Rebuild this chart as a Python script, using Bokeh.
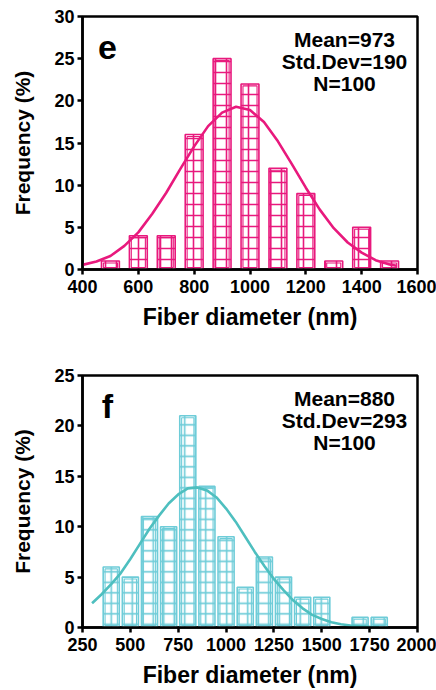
from bokeh.plotting import figure
from bokeh.layouts import column
from bokeh.models import Label, FixedTicker, Range1d
from bokeh.embed import file_html
from bokeh.resources import INLINE

# ---------------- Panel e data ----------------
e_bins = [500, 600, 700, 800, 900, 1000, 1100, 1200, 1300, 1400, 1500]
e_freq = [1, 4, 4, 16, 25, 22, 12, 9, 1, 5, 1]
e_fit_x = [400, 450, 500, 550, 600, 650, 700, 750, 800, 850, 900, 950, 1000,
           1050, 1100, 1150, 1200, 1250, 1300, 1350, 1400, 1450, 1500, 1525]
e_fit_y = [0.55, 0.95, 1.6, 2.8, 4.4, 6.6, 9.1, 11.9, 14.6, 17.0, 18.6, 19.3, 18.9,
           17.5, 15.2, 12.5, 9.7, 7.1, 4.9, 3.2, 2.0, 1.1, 0.6, 0.45]
e_xticks = [400, 600, 800, 1000, 1200, 1400, 1600]
e_yticks = [0, 5, 10, 15, 20, 25, 30]
e_stats = ["Mean=973", "Std.Dev=190", "N=100"]
e_letter = "e"

# ---------------- Panel f data ----------------
f_bins = [400, 500, 600, 700, 800, 900, 1000, 1100, 1200, 1300, 1400, 1500, 1600, 1700, 1800]
f_freq = [6, 5, 11, 10, 21, 14, 9, 4, 7, 5, 3, 3, 0, 1, 1]
f_fit_x = [300, 350, 400, 450, 500, 550, 600, 650, 700, 750, 800, 850, 900, 950, 1000,
           1050, 1100, 1150, 1200, 1250, 1300, 1350, 1400, 1450, 1500, 1550, 1600,
           1650, 1700, 1750, 1800]
f_fit_y = [2.4, 3.3, 4.3, 5.4, 6.8, 8.3, 9.8, 11.1, 12.3, 13.2, 13.8, 13.9, 13.6, 12.9, 11.8,
           10.5, 9.0, 7.5, 6.1, 4.8, 3.7, 2.7, 1.9, 1.25, 0.85, 0.53, 0.33,
           0.2, 0.12, 0.07, 0.04]
f_xticks = [250, 500, 750, 1000, 1250, 1500, 1750, 2000]
f_yticks = [0, 5, 10, 15, 20, 25]
f_stats = ["Mean=880", "Std.Dev=293", "N=100"]
f_letter = "f"

FONT = "Liberation Sans"
W, H = 436, 345
BL, BR = 82, 19


def panel(bins, freq, fit_x, fit_y, xr, yr, xticks, yticks, bar_color, line_color,
          letter, stats, bar_w, bt, bb, hatch_scale):
    p = figure(width=W, height=H, output_backend="svg", toolbar_location=None,
               x_range=Range1d(*xr), y_range=Range1d(*yr),
               min_border_left=BL, min_border_right=BR,
               min_border_top=bt, min_border_bottom=bb)
    p.grid.visible = False
    p.background_fill_color = "white"
    p.outline_line_color = "black"
    p.outline_line_width = 2.5
    fw = W - BL - BR
    fh = H - bt - bb
    sx = (xr[1] - xr[0]) / fw
    sy = (yr[1] - yr[0]) / fh

    xs = [b for b, v in zip(bins, freq) if v > 0]
    ys = [v for v in freq if v > 0]
    p.vbar(x=xs, width=bar_w, top=ys, bottom=0, fill_color="white",
           line_color=bar_color, line_width=1.6,
           hatch_pattern="+", hatch_color=bar_color, hatch_scale=hatch_scale,
           hatch_weight=1.6)
    inset_x = 1.9 * sx
    inset_y = 1.9 * sy
    p.vbar(x=xs, width=bar_w - 2 * inset_x, top=[v - inset_y for v in ys],
           bottom=inset_y, fill_alpha=0, line_color=bar_color, line_width=1.1)

    p.line(fit_x, fit_y, line_color=line_color, line_width=2.6)

    for ax in (p.xaxis[0], p.yaxis[0]):
        ax.axis_line_width = 2.5
        ax.major_tick_line_width = 2.5
        ax.major_tick_out = 5
        ax.major_tick_in = 0
        ax.minor_tick_line_color = None
        ax.major_label_text_font = FONT
        ax.major_label_text_font_style = "bold"
        ax.major_label_text_font_size = "18px"
        ax.major_label_text_color = "black"
        ax.axis_label_text_font = FONT
        ax.axis_label_text_font_style = "bold"
        ax.axis_label_text_color = "black"
    p.xaxis.axis_label_text_font_size = "23px"
    p.yaxis.axis_label_text_font_size = "21px"
    p.xaxis.ticker = FixedTicker(ticks=xticks)
    p.yaxis.ticker = FixedTicker(ticks=yticks)
    p.xaxis.axis_label = "Fiber diameter (nm)"
    p.yaxis.axis_label = "Frequency (%)"
    p.xaxis.major_label_standoff = 5
    p.yaxis.major_label_standoff = 3
    p.xaxis.axis_label_standoff = 8
    p.yaxis.axis_label_standoff = 17

    # panel letter
    p.add_layout(Label(x=xr[0] + 25 * sx, y=yr[1] - 31 * sy, text=letter,
                       text_font=FONT, text_font_style="bold", text_font_size="34px",
                       text_align="center", text_baseline="middle", text_color="black"))
    for i, s in enumerate(stats):
        p.add_layout(Label(x=xr[0] + 262 * sx, y=yr[1] - (23 + 22 * i) * sy, text=s,
                           text_font=FONT, text_font_style="bold", text_font_size="21px",
                           text_align="center", text_baseline="middle", text_color="black"))
    return p


p1 = panel(e_bins, e_freq, e_fit_x, e_fit_y, (400, 1600), (0, 30), e_xticks, e_yticks,
           "#E8197D", "#E8197D", e_letter, e_stats, 64, 16, 76, 11)
p2 = panel(f_bins, f_freq, f_fit_x, f_fit_y, (250, 2000), (0, 25), f_xticks, f_yticks,
           "#6ECCD8", "#4EBFBF", f_letter, f_stats, 84, 30, 62, 10.5)

layout = column(p1, p2, spacing=0)
open("out.html", "w").write(file_html(layout, INLINE))
